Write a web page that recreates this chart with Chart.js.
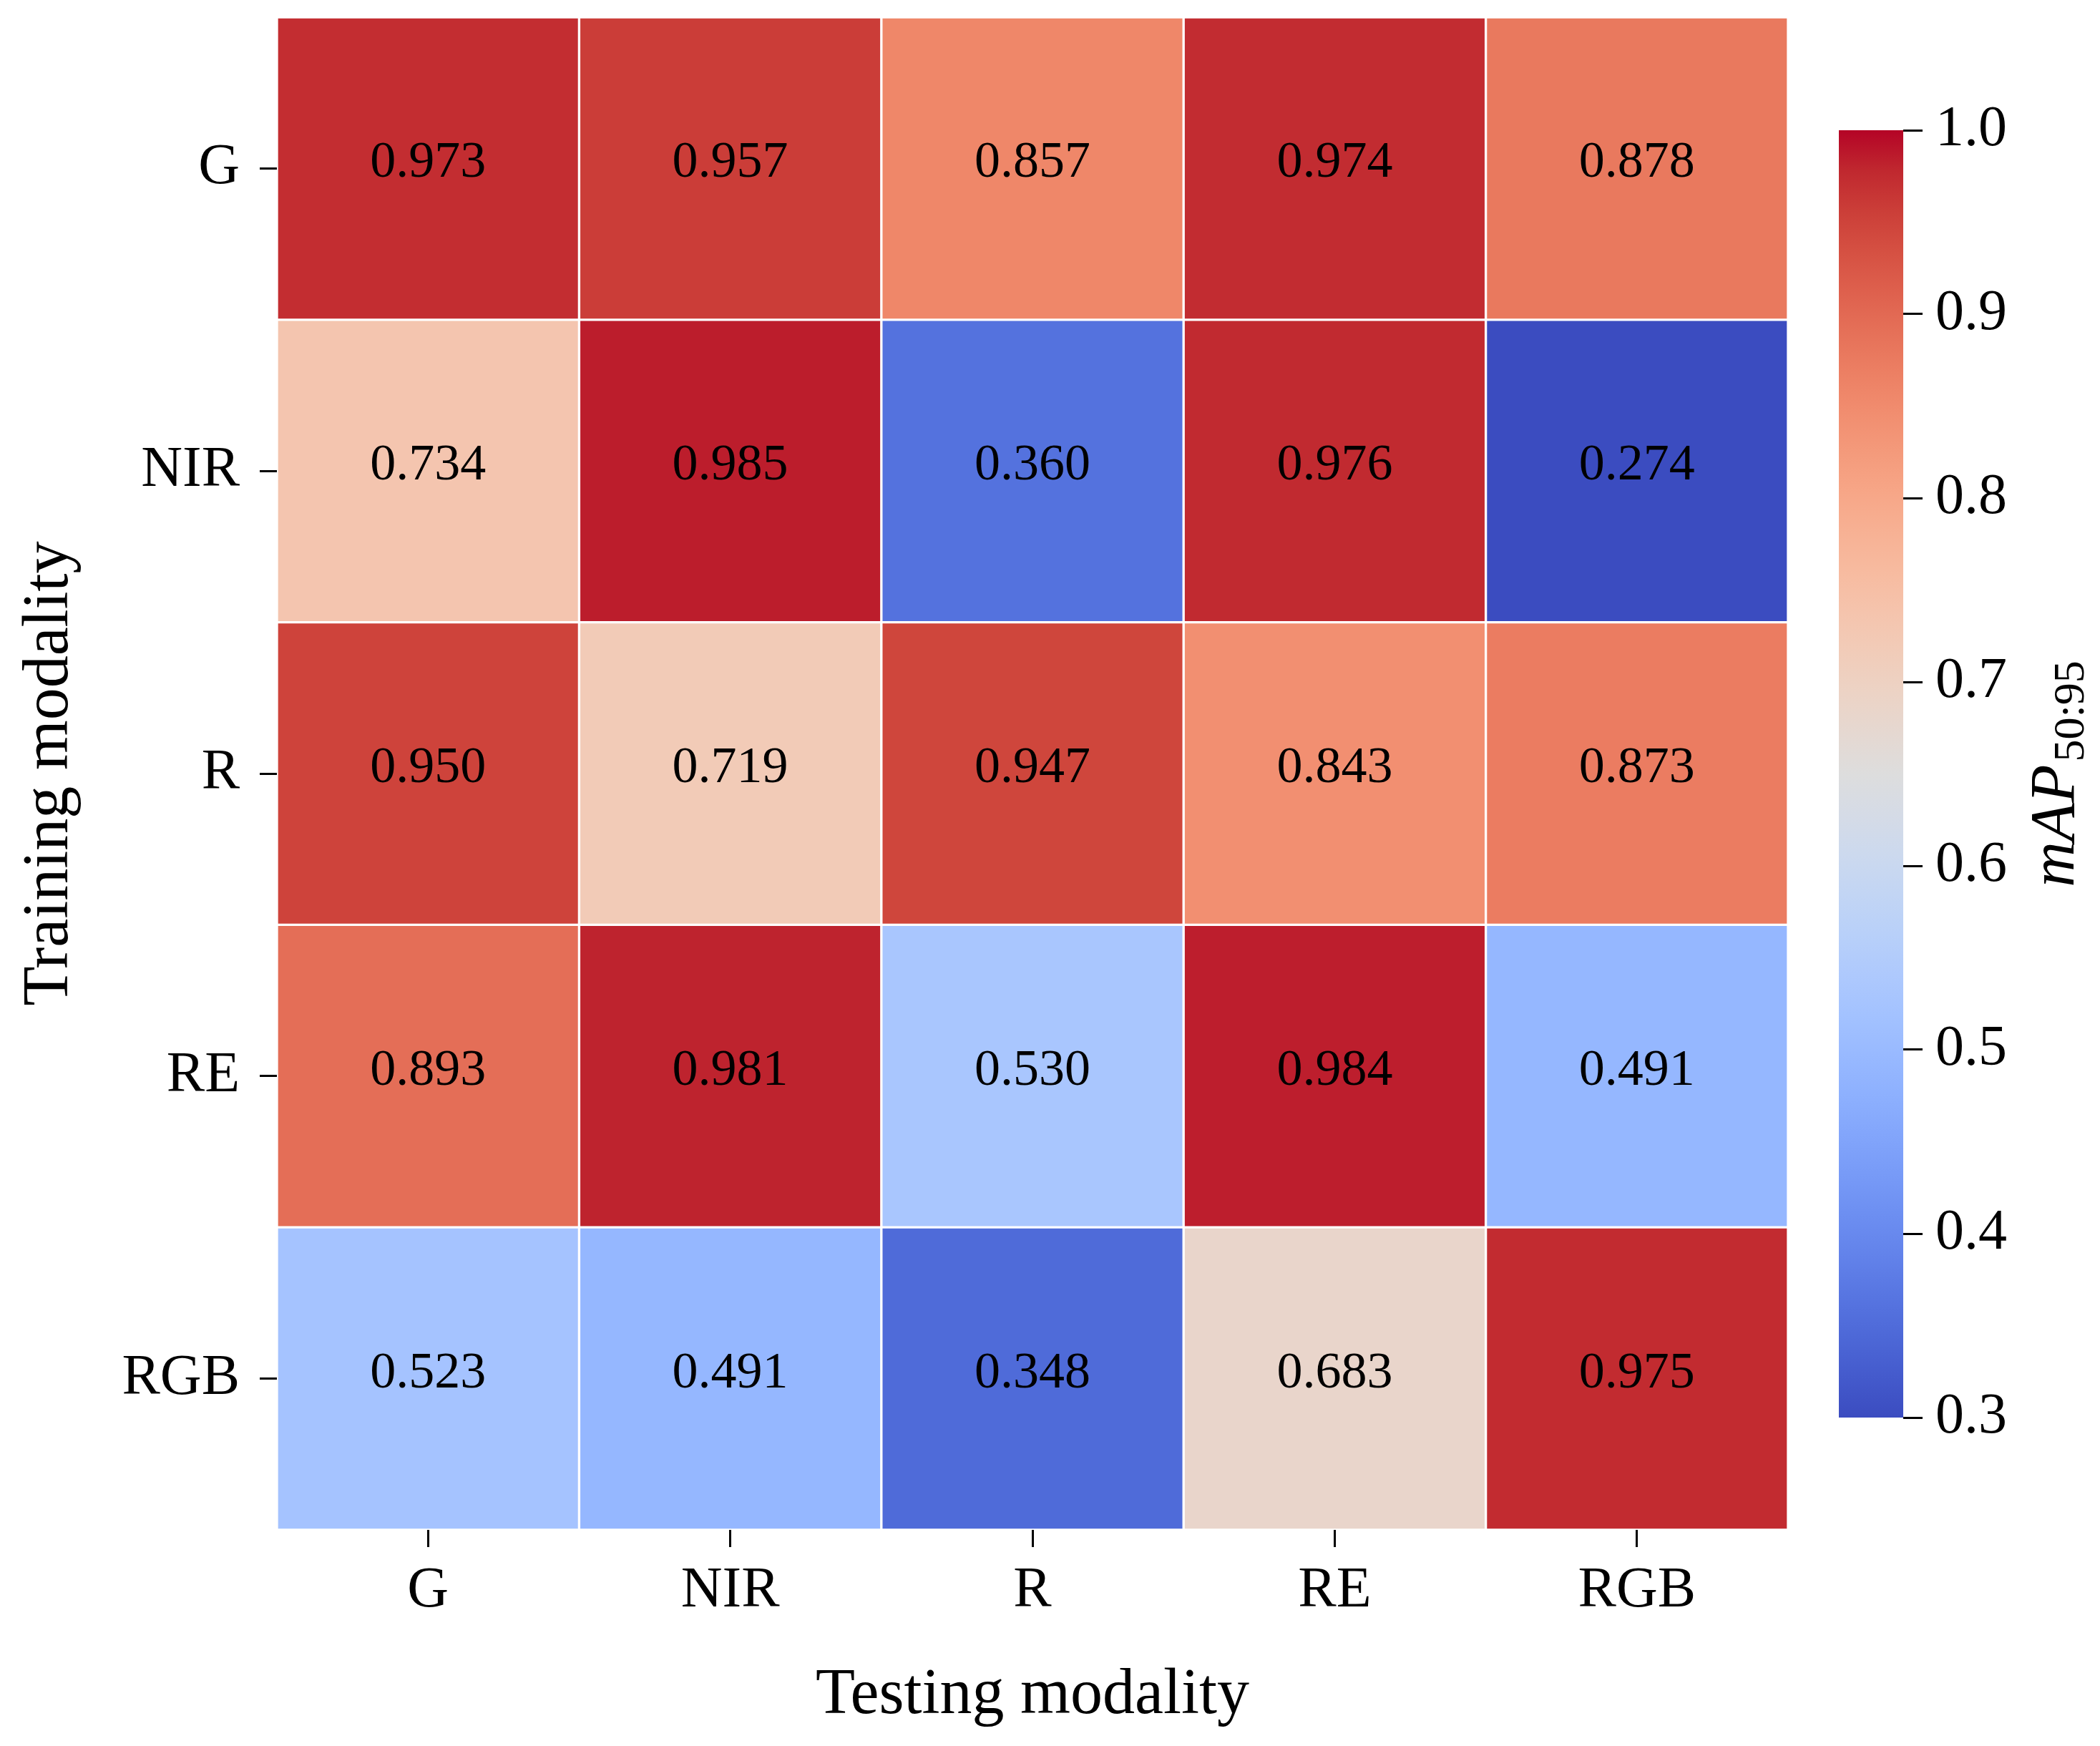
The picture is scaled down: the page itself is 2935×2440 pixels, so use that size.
<!DOCTYPE html>
<html>
<head>
<meta charset="utf-8">
<script src="https://cdn.jsdelivr.net/npm/chart.js@4.4.1/dist/chart.umd.min.js"></script>
<style>
html, body { margin: 0; padding: 0; background: #fff; }
#wrap { position: relative; width: 2935px; height: 2440px; }
#heat { position: absolute; left: 0; top: 0; }
#cbar { position: absolute; left: 2540px; top: 0; }
</style>
</head>
<body>
<div id="wrap">
  <canvas id="heat" width="2540" height="2440"></canvas>
  <canvas id="cbar" width="395" height="2440"></canvas>
</div>
<script>
// testing modality = columns, training modality = rows
const testing = ['G', 'NIR', 'R', 'RE', 'RGB'];
const training = ['G', 'NIR', 'R', 'RE', 'RGB'];

const trainG   = [0.973, 0.957, 0.857, 0.974, 0.878];
const trainNIR = [0.734, 0.985, 0.360, 0.976, 0.274];
const trainR   = [0.950, 0.719, 0.947, 0.843, 0.873];
const trainRE  = [0.893, 0.981, 0.530, 0.984, 0.491];
const trainRGB = [0.523, 0.491, 0.348, 0.683, 0.975];
const rows = [trainG, trainNIR, trainR, trainRE, trainRGB];

const vmin = 0.3;
const vmax = 1.0;

// coolwarm (Moreland) lookup
const coolwarm = [
  [59,76,192],[68,90,204],[77,104,215],[87,117,225],[98,130,234],[108,142,241],
  [119,154,247],[130,165,251],[141,176,254],[152,185,255],[163,194,255],[174,201,253],
  [184,208,249],[194,213,244],[204,217,238],[213,219,230],[221,221,221],[229,216,209],
  [236,211,197],[241,204,185],[245,196,173],[247,187,160],[247,177,148],[247,166,135],
  [244,154,123],[241,141,111],[236,127,99],[229,112,88],[222,96,77],[213,80,66],
  [203,62,56],[192,40,47],[180,4,38]
];

function cmap(t) {
  t = Math.max(0, Math.min(1, t));
  const p = t * (coolwarm.length - 1);
  const i = Math.min(Math.floor(p), coolwarm.length - 2);
  const f = p - i;
  const a = coolwarm[i], b = coolwarm[i + 1];
  const c = a.map((v, k) => Math.round(v + (b[k] - v) * f));
  return 'rgb(' + c.join(',') + ')';
}
const colorFor = v => cmap((v - vmin) / (vmax - vmin));

const FONT = "'Liberation Serif', 'Times New Roman', serif";

// value labels inside the cells
const cellText = {
  id: 'cellText',
  afterDatasetsDraw(chart) {
    const ctx = chart.ctx;
    ctx.save();
    ctx.fillStyle = '#000';
    ctx.font = '72px ' + FONT;
    ctx.textAlign = 'center';
    ctx.textBaseline = 'middle';
    chart.data.datasets.forEach((ds, di) => {
      chart.getDatasetMeta(di).data.forEach((bar, j) => {
        const p = bar.getProps(['x', 'y', 'base'], true);
        ctx.fillText(ds.values[j].toFixed(3), p.x, (p.y + p.base) / 2 - 7);
      });
    });
    ctx.restore();
  }
};

new Chart(document.getElementById('heat'), {
  type: 'bar',
  data: {
    labels: testing,
    datasets: rows.map((vals, i) => ({
      label: training[i],
      values: vals,
      data: vals.map(() => [i, i + 1]),
      backgroundColor: vals.map(colorFor),
      borderColor: '#fff',
      borderWidth: 2,
      borderSkipped: false,
      grouped: false,
      barPercentage: 1,
      categoryPercentage: 1
    }))
  },
  options: {
    responsive: false,
    devicePixelRatio: 1,
    animation: false,
    layout: { padding: { top: 24, right: 41, left: 0, bottom: 0 } },
    plugins: { legend: { display: false }, tooltip: { enabled: false } },
    scales: {
      x: {
        type: 'category',
        offset: true,
        grid: { offset: false, drawOnChartArea: false, drawTicks: true, tickLength: 24, tickWidth: 3, tickColor: '#000' },
        border: { display: false },
        ticks: { color: '#000', font: { family: FONT, size: 80 }, padding: 14, maxRotation: 0 },
        title: { display: true, text: 'Testing modality', color: '#000', font: { family: FONT, size: 90 }, padding: { top: 0, bottom: 16 } },
        afterFit: s => { s.height = 2440 - 2138; s.paddingLeft = 0; s.paddingRight = 0; }
      },
      y: {
        type: 'linear',
        min: 0,
        max: 5,
        reverse: true,
        afterBuildTicks: s => { s.ticks = training.map((_, i) => ({ value: i + 0.5 })); },
        grid: { drawOnChartArea: false, drawTicks: true, tickLength: 24, tickWidth: 3, tickColor: '#000' },
        border: { display: false },
        ticks: { color: '#000', font: { family: FONT, size: 80 }, padding: 28, callback: (v, i) => training[i] },
        title: { display: true, text: 'Training modality', color: '#000', font: { family: FONT, size: 90 }, padding: { top: 16, bottom: 0 } },
        afterFit: s => { s.width = 387; s.paddingTop = 0; s.paddingBottom = 0; }
      }
    }
  },
  plugins: [cellText]
});

// colour bar
const cbTicks = [0.3, 0.4, 0.5, 0.6, 0.7, 0.8, 0.9, 1.0];

const cbLabel = {
  id: 'cbLabel',
  afterDraw(chart) {
    const ctx = chart.ctx;
    const sc = chart.scales.y;
    const cy = (sc.top + sc.bottom) / 2;
    const cx = 358;
    ctx.save();
    ctx.translate(cx, cy);
    ctx.rotate(-Math.PI / 2);
    ctx.fillStyle = '#000';
    ctx.textBaseline = 'alphabetic';
    const main = 'italic 88px ' + FONT;
    const sub = '62px ' + FONT;
    ctx.font = main;
    const w1 = ctx.measureText('mAP').width;
    ctx.font = sub;
    const w2 = ctx.measureText('50:95').width;
    const x0 = -(w1 + w2 + 4) / 2;
    ctx.font = main;
    ctx.fillText('mAP', x0, 0);
    ctx.font = sub;
    ctx.fillText('50:95', x0 + w1 + 4, 14);
    ctx.restore();
  }
};

new Chart(document.getElementById('cbar'), {
  type: 'bar',
  data: {
    labels: ['cb'],
    datasets: [{
      data: [[vmin, vmax]],
      backgroundColor: (c) => {
        const chart = c.chart;
        if (!chart.chartArea) return null;
        const sc = chart.scales.y;
        const g = chart.ctx.createLinearGradient(0, sc.getPixelForValue(vmin), 0, sc.getPixelForValue(vmax));
        coolwarm.forEach((_, k) => g.addColorStop(k / (coolwarm.length - 1), cmap(k / (coolwarm.length - 1))));
        return g;
      },
      borderWidth: 0,
      barPercentage: 1,
      categoryPercentage: 1
    }]
  },
  options: {
    responsive: false,
    devicePixelRatio: 1,
    animation: false,
    layout: { padding: { top: 182, bottom: 459, left: 30, right: 0 } },
    plugins: { legend: { display: false }, tooltip: { enabled: false } },
    scales: {
      x: { display: false },
      y: {
        position: 'right',
        min: vmin,
        max: vmax,
        afterBuildTicks: s => { s.ticks = cbTicks.map(v => ({ value: v })); },
        grid: { drawOnChartArea: false, drawTicks: true, tickLength: 27, tickWidth: 3, tickColor: '#000' },
        border: { display: false },
        ticks: { color: '#000', font: { family: FONT, size: 80 }, padding: 18, callback: v => v.toFixed(1) },
        afterFit: s => { s.width = 395 - 30 - 90; s.paddingTop = 0; s.paddingBottom = 0; }
      }
    }
  },
  plugins: [cbLabel]
});
</script>
</body>
</html>
